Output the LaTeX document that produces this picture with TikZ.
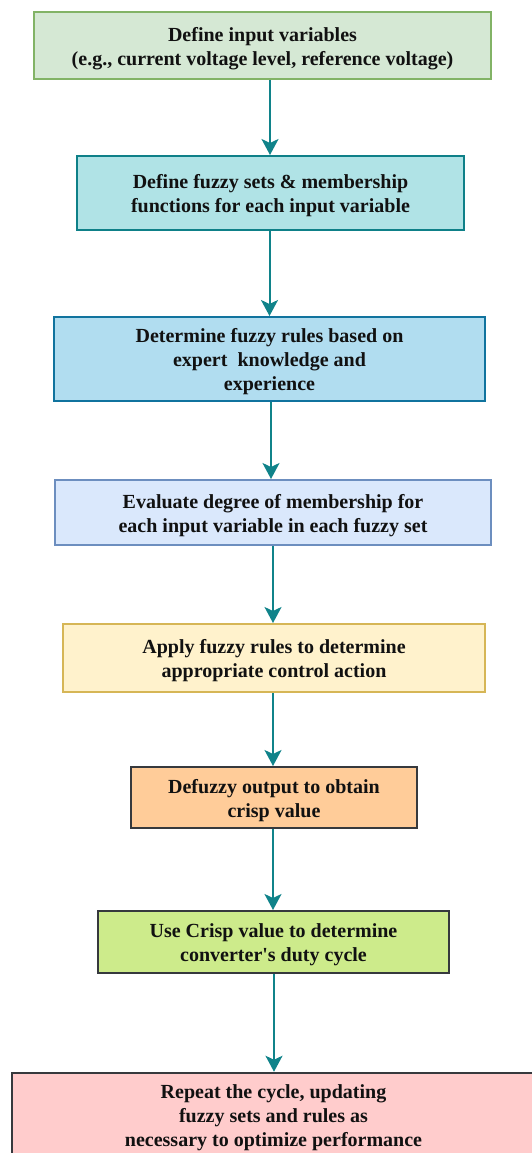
\documentclass[tikz,border=0pt]{standalone}
\usepackage{fontspec}
\setmainfont{Liberation Serif}
\usetikzlibrary{arrows.meta}
\definecolor{f1}{HTML}{D5E8D4}\definecolor{d1}{HTML}{82B366}
\definecolor{f2}{HTML}{B0E3E6}\definecolor{d2}{HTML}{0E8088}
\definecolor{f3}{HTML}{B1DDF0}\definecolor{d3}{HTML}{10739E}
\definecolor{f4}{HTML}{DAE8FC}\definecolor{d4}{HTML}{6C8EBF}
\definecolor{f5}{HTML}{FFF2CC}\definecolor{d5}{HTML}{D6B656}
\definecolor{f6}{HTML}{FFCC99}
\definecolor{f7}{HTML}{CDEB8B}
\definecolor{f8}{HTML}{FFCCCC}
\definecolor{dk}{HTML}{36393D}
\definecolor{arrc}{HTML}{10838A}
\definecolor{txt}{HTML}{111111}
\newcommand{\boxtext}[1]{\begin{tabular}{@{}c@{}}\noalign{\vskip 6pt}#1\end{tabular}}
\begin{document}
\begin{tikzpicture}[x=1pt,y=-1pt,
  box/.style={draw, line width=2pt, rectangle, inner sep=0pt,
    text=txt, font=\bfseries\fontsize{20}{24}\selectfont},
  arr/.style={draw=arrc, line width=2pt, -{Stealth[length=16pt,width=17pt,inset=4pt]}}]
\useasboundingbox (0,0) rectangle (532,1153);
\node[box, fill=f1, draw=d1, minimum width=457pt, minimum height=67pt] (b1) at (262.5,45.5)
  {\boxtext{Define input variables\\(e.g., current voltage level, reference voltage)}};
\node[box, fill=f2, draw=d2, minimum width=387pt, minimum height=74pt] (b2) at (270.5,193)
  {\boxtext{Define fuzzy sets \& membership\\functions for each input variable}};
\node[box, fill=f3, draw=d3, minimum width=431pt, minimum height=84pt] (b3) at (269.5,359)
  {\boxtext{Determine fuzzy rules based on\\expert\ \ knowledge and\\experience}};
\node[box, fill=f4, draw=d4, minimum width=436pt, minimum height=65pt] (b4) at (273,512.5)
  {\boxtext{Evaluate degree of membership for\\each input variable in each fuzzy set}};
\node[box, fill=f5, draw=d5, minimum width=422pt, minimum height=68pt] (b5) at (274,658)
  {\boxtext{Apply fuzzy rules to determine\\appropriate control action}};
\node[box, fill=f6, draw=dk, minimum width=286pt, minimum height=61pt] (b6) at (274,797.5)
  {\boxtext{Defuzzy output to obtain\\crisp value}};
\node[box, fill=f7, draw=dk, minimum width=351pt, minimum height=62pt] (b7) at (273.5,942)
  {\boxtext{Use Crisp value to determine\\converter\textquotesingle s duty cycle}};
\node[box, fill=f8, draw=dk, line width=2.5pt, minimum width=530pt, minimum height=84pt] (b8) at (277,1115)
  {\boxtext{Repeat the cycle, updating\\fuzzy sets and rules as\\necessary to optimize performance}\hspace*{7pt}};
\draw[arr] ([xshift=7.5pt]b1.south) -- ([xshift=7.5pt]b1.south |- b2.north);
\draw[arr] ([xshift=-1pt]b2.south) -- ([xshift=-1pt]b2.south |- b3.north);
\draw[arr] ([xshift=1.5pt]b3.south) -- ([xshift=1.5pt]b3.south |- b4.north);
\draw[arr] (b4.south) -- (b4.south |- b5.north);
\draw[arr] ([xshift=-1pt]b5.south) -- ([xshift=-1pt]b5.south |- b6.north);
\draw[arr] ([xshift=-1pt]b6.south) -- ([xshift=-1pt]b6.south |- b7.north);
\draw[arr] ([xshift=0.5pt]b7.south) -- ([xshift=0.5pt]b7.south |- b8.north);
\end{tikzpicture}
\end{document}
